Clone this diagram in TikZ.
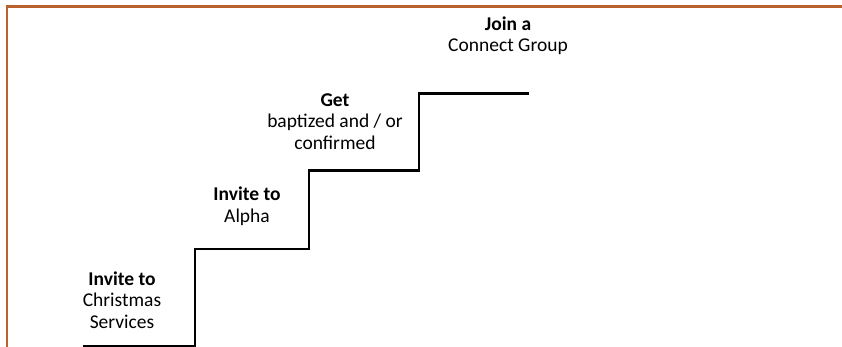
\documentclass[tikz,border=0pt]{standalone}
\usepackage{fontspec}
\setmainfont{Carlito}
\definecolor{frameorange}{RGB}{185,98,45}
\begin{document}
\begin{tikzpicture}[x=1pt,y=-1pt,
  frameline/.style={draw=frameorange,line width=2.6pt},
  stairline/.style={draw=black,line width=2.7pt,line join=miter},
  steplabel/.style={align=center,inner sep=0pt,font=\fontsize{19.5}{21.5}\selectfont}]
\useasboundingbox (0,0) rectangle (842,347);
% frame
\coordinate (fb) at (7,347);
\coordinate (fc) at (7,6.3);
\coordinate (fr) at (842,6.3);
\draw[frameline] (fb) -- (fc) -- (fr);
% staircase corners
\coordinate (s0) at (83,346);
\coordinate (s1) at (195,346);
\coordinate (s2) at (195,249);
\coordinate (s3) at (309,249);
\coordinate (s4) at (309,170.5);
\coordinate (s5) at (419,170.5);
\coordinate (s6) at (419,93.5);
\coordinate (s7) at (529,93.5);
\draw[stairline] (s0) -- (s1) -- (s2) -- (s3) -- (s4) -- (s5) -- (s6) -- (s7);
% labels
\node[steplabel] (christmas) at (122,300) {\textbf{Invite to}\\Christmas\\Services};
\node[steplabel] (alpha) at (247,206) {\textbf{Invite to}\\Alpha};
\node[steplabel] (baptized) at (335,121.5) {\textbf{Get}\\baptized and / or\\confirmed};
\node[steplabel] (connect) at (508,35.5) {\textbf{Join a}\\Connect Group};
\end{tikzpicture}
\end{document}
